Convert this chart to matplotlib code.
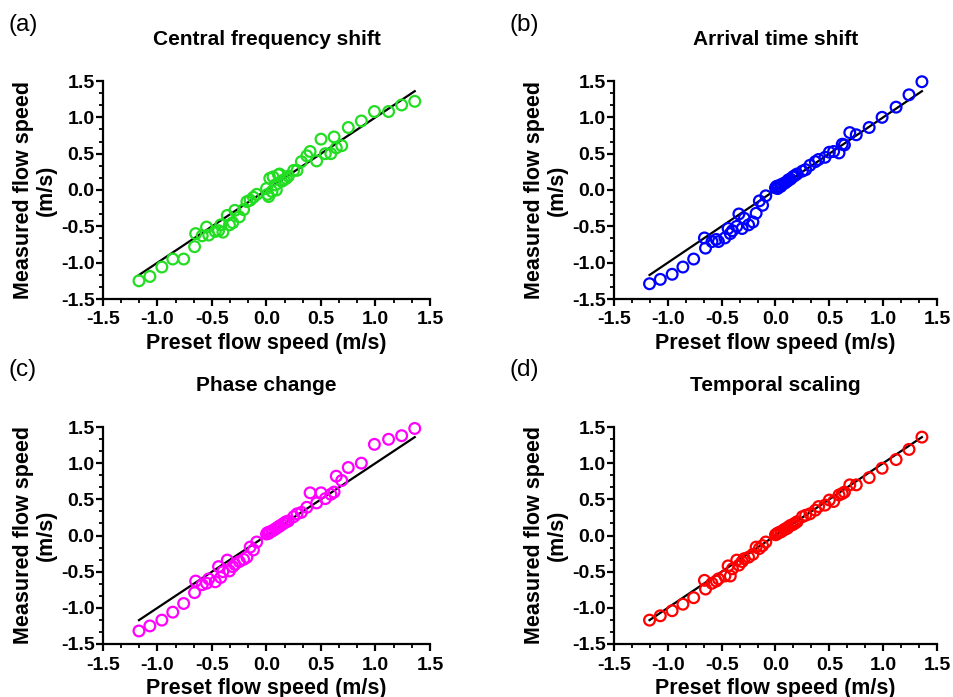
import numpy as np
import matplotlib
matplotlib.use("Agg")
import matplotlib.pyplot as plt
from matplotlib.ticker import MultipleLocator, FormatStrFormatter

plt.rcParams['font.family'] = ['Liberation Sans', 'DejaVu Sans']
plt.rcParams['axes.unicode_minus'] = False

# preset flow speeds (m/s), shared by all four methods
preset = [-1.17, -1.07, -0.96, -0.86, -0.76, -0.66, -0.65, -0.59, -0.55, -0.53,
          -0.47, -0.44, -0.42, -0.40, -0.36, -0.34, -0.31, -0.29, -0.25, -0.21,
          -0.18, -0.15, -0.12, -0.09, 0.00, 0.01, 0.02, 0.03, 0.05, 0.06,
          0.08, 0.09, 0.11, 0.12, 0.14, 0.16, 0.18, 0.20, 0.25, 0.28,
          0.32, 0.37, 0.40, 0.46, 0.50, 0.54, 0.59, 0.62, 0.64, 0.69,
          0.75, 0.87, 0.99, 1.12, 1.24, 1.36]

# measured flow speeds (m/s)
central_freq = [-1.25, -1.19, -1.06, -0.95, -0.95, -0.78, -0.60, -0.63, -0.51, -0.62,
                -0.57, -0.56, -0.48, -0.58, -0.35, -0.48, -0.45, -0.28, -0.37, -0.27,
                -0.16, -0.14, -0.10, -0.06, 0.02, -0.06, -0.09, 0.16, -0.02, 0.18,
                0.07, 0.00, 0.21, 0.22, 0.12, 0.14, 0.16, 0.19, 0.27, 0.27,
                0.39, 0.47, 0.53, 0.40, 0.70, 0.50, 0.50, 0.73, 0.58, 0.61,
                0.86, 0.95, 1.08, 1.08, 1.17, 1.22]

arrival_time = [-1.29, -1.23, -1.16, -1.06, -0.95, -0.66, -0.80, -0.71, -0.68, -0.71,
                -0.66, -0.53, -0.60, -0.56, -0.50, -0.33, -0.53, -0.39, -0.48, -0.44,
                -0.32, -0.15, -0.21, -0.08, 0.03, 0.05, 0.02, 0.06, 0.05, 0.08,
                0.09, 0.10, 0.12, 0.14, 0.15, 0.18, 0.20, 0.22, 0.26, 0.28,
                0.34, 0.39, 0.42, 0.45, 0.52, 0.53, 0.51, 0.63, 0.62, 0.79,
                0.76, 0.86, 1.00, 1.14, 1.31, 1.49]

phase_change = [-1.32, -1.25, -1.17, -1.06, -0.94, -0.79, -0.63, -0.68, -0.66, -0.60,
                -0.64, -0.43, -0.58, -0.50, -0.34, -0.49, -0.43, -0.40, -0.36, -0.33,
                -0.30, -0.16, -0.20, -0.09, 0.02, 0.04, 0.03, 0.05, 0.06, 0.07,
                0.09, 0.10, 0.12, 0.13, 0.15, 0.17, 0.19, 0.20, 0.26, 0.30,
                0.32, 0.39, 0.59, 0.45, 0.59, 0.51, 0.57, 0.60, 0.82, 0.76,
                0.94, 1.00, 1.26, 1.33, 1.38, 1.48]

temporal_scaling = [-1.17, -1.11, -1.04, -0.95, -0.86, -0.62, -0.74, -0.66, -0.63, -0.60,
                    -0.56, -0.42, -0.56, -0.46, -0.34, -0.41, -0.36, -0.32, -0.30, -0.26,
                    -0.16, -0.18, -0.14, -0.09, 0.01, 0.02, 0.03, 0.04, 0.05, 0.06,
                    0.08, 0.09, 0.10, 0.12, 0.14, 0.15, 0.17, 0.19, 0.26, 0.28,
                    0.30, 0.35, 0.40, 0.42, 0.49, 0.47, 0.56, 0.58, 0.60, 0.70,
                    0.70, 0.80, 0.93, 1.05, 1.19, 1.36]

titles = ['Central frequency shift', 'Arrival time shift', 'Phase change', 'Temporal scaling']
letters = ['(a)', '(b)', '(c)', '(d)']
colors = ['#22dd22', '#0000ff', '#ff00ff', '#ff0000']
series = [central_freq, arrival_time, phase_change, temporal_scaling]

fig = plt.figure(figsize=(9.54, 6.97), dpi=100)

# axes boxes in pixels: left, top, right, bottom
boxes = [(103, 81, 430, 299), (614, 81, 937, 299),
         (103, 427, 430, 644), (614, 427, 937, 644)]
label_pos = [(9, 25), (510, 25), (9, 370), (510, 370)]
W, H = 954, 697

x = np.array(preset)
for i in range(4):
    l, t, r, b = boxes[i]
    ax = fig.add_axes([l / W, 1 - b / H, (r - l) / W, (b - t) / H])
    ax.plot([x.min(), x.max()], [x.min(), x.max()], color='black', lw=1.6, zorder=1)
    ax.scatter(x, series[i], s=60, facecolors='none', edgecolors=colors[i],
               linewidths=1.6, zorder=2, clip_on=False)
    ax.set_xlim(-1.5, 1.5)
    ax.set_ylim(-1.5, 1.5)
    for s in ['top', 'right']:
        ax.spines[s].set_visible(False)
    for s in ['left', 'bottom']:
        ax.spines[s].set_linewidth(1.6)
    ax.xaxis.set_major_locator(MultipleLocator(0.5))
    ax.yaxis.set_major_locator(MultipleLocator(0.5))
    ax.xaxis.set_minor_locator(MultipleLocator(0.5 / 3))
    ax.yaxis.set_minor_locator(MultipleLocator(0.5 / 3))
    ax.xaxis.set_major_formatter(FormatStrFormatter('%.1f'))
    ax.yaxis.set_major_formatter(FormatStrFormatter('%.1f'))
    ax.tick_params(which='major', length=5, width=1.6, labelsize=14)
    ax.tick_params(axis='x', which='major', pad=4)
    ax.tick_params(axis='y', which='major', pad=1)
    ax.tick_params(which='minor', length=3, width=1.3)
    for lab in ax.get_xticklabels() + ax.get_yticklabels():
        lab.set_fontweight('bold')
    ax.set_xlabel('Preset flow speed (m/s)', fontsize=15.5, fontweight='bold', labelpad=3)
    ax.set_ylabel('Measured flow speed\n(m/s)', fontsize=15.5, fontweight='bold',
                  labelpad=3, linespacing=1.1)
    ax.set_title(titles[i], fontsize=15, fontweight='bold', pad=26)
    px, py = label_pos[i]
    fig.text(px / W, 1 - py / H, letters[i], fontsize=17.5, va='center', ha='left')

fig.savefig('out.png', dpi=100)
